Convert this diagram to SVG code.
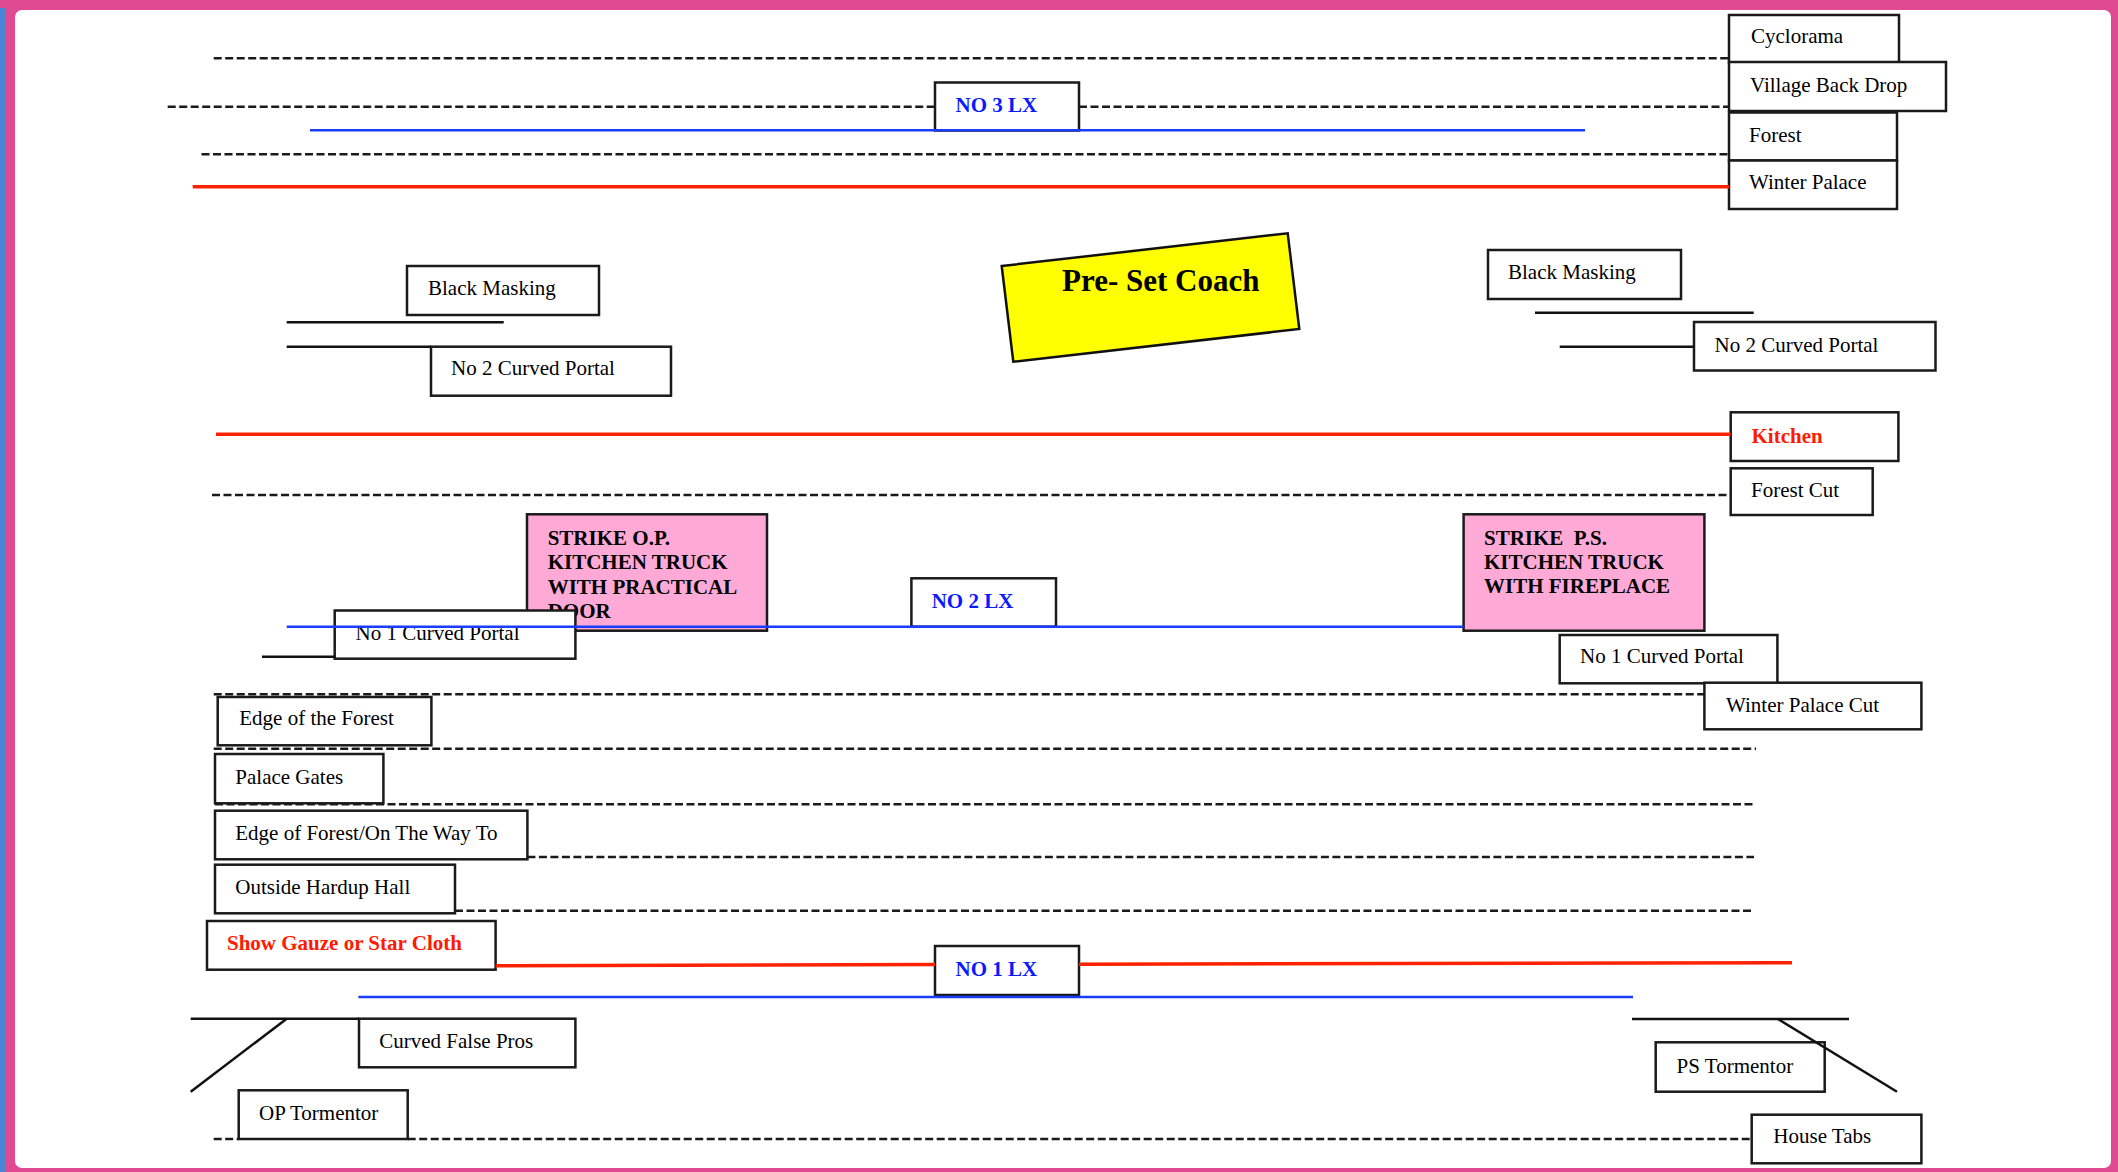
<svg xmlns="http://www.w3.org/2000/svg" width="2118" height="1172" viewBox="0 0 2118 1172">
<style>
.box{fill:#ffffff;stroke:#1a1a1a;stroke-width:2.5}
.pink{fill:#ffaad6;stroke:#1a1a1a;stroke-width:2.5}
.t{font-family:"Liberation Serif","Times New Roman",serif;font-size:21px;fill:#000}
.b{font-weight:bold}
.red{fill:#ff1a00}
.blue{fill:#0a1aff}
.dash{stroke:#1a1a1a;stroke-width:2.5;stroke-dasharray:8 3.5;fill:none}
.solid{stroke:#111;stroke-width:2.5;fill:none}
.rl{stroke:#ff2200;stroke-width:3.5;fill:none}
.bl{stroke:#1a3cff;stroke-width:2.5;fill:none}
</style>
<g id="frame">
<rect x="0" y="0" width="2118" height="1172" fill="#df4a93"/>
<rect x="0" y="8" width="5" height="1164" fill="#4a86d8"/>
<rect x="15" y="10" width="2096" height="1158" rx="7" fill="#ffffff"/>
</g>
<g id="nodes">
<g id="cyclorama"><rect class="box" x="1729" y="15" width="170" height="48"/><text class="t" x="1751" y="43">Cyclorama</text></g>
<g id="village"><rect class="box" x="1729" y="62" width="217" height="49"/><text class="t" x="1750" y="91.5">Village Back Drop</text></g>
<g id="forest"><rect class="box" x="1729" y="112.5" width="168" height="48"/><text class="t" x="1749" y="141.5">Forest</text></g>
<g id="winterpalace"><rect class="box" x="1729" y="160.5" width="168" height="48.5"/><text class="t" x="1749" y="189">Winter Palace</text></g>
<g id="no3lx"><rect class="box" x="935" y="82.5" width="144" height="48"/><text class="t b blue" x="955.5" y="111.5">NO 3 LX</text></g>
<g id="blackmasking-l"><rect class="box" x="407" y="266" width="192" height="49"/><text class="t" x="428" y="295">Black Masking</text></g>
<g id="no2portal-l"><rect class="box" x="431" y="346.7" width="240" height="49"/><text class="t" x="451" y="375">No 2 Curved Portal</text></g>
<g id="coach"><polygon points="1001.7,266 1287.7,233.3 1299.3,329 1013.3,361.7" fill="#ffff00" stroke="#111" stroke-width="2.5"/><text class="t b" style="font-size:31px" x="1062" y="290.5">Pre- Set Coach</text></g>
<g id="blackmasking-r"><rect class="box" x="1488" y="250" width="193" height="49"/><text class="t" x="1508" y="279">Black Masking</text></g>
<g id="no2portal-r"><rect class="box" x="1694" y="322" width="241.5" height="48.5"/><text class="t" x="1714.5" y="351.5">No 2 Curved Portal</text></g>
<g id="kitchen"><rect class="box" x="1730.7" y="412.3" width="167.7" height="48.7"/><text class="t b red" x="1751.5" y="442.5">Kitchen</text></g>
<g id="forestcut"><rect class="box" x="1730.7" y="468.3" width="142" height="46.7"/><text class="t" x="1751" y="497.3">Forest Cut</text></g>
<g id="strike-op"><rect class="pink" x="527" y="514.3" width="240" height="116.4"/>
<text class="t b" x="547.7" y="545">STRIKE O.P.</text><text class="t b" x="547.7" y="569.3">KITCHEN TRUCK</text><text class="t b" x="547.7" y="594">WITH PRACTICAL</text><text class="t b" x="547.7" y="618.3">DOOR</text></g>
<g id="no1portal-l"><rect class="box" x="334.7" y="610.5" width="240.7" height="48.2"/><text class="t" x="355.6" y="640">No 1 Curved Portal</text></g>
<g id="no2lx"><rect class="box" x="911.4" y="578.3" width="144.6" height="48.4"/><text class="t b blue" x="931.7" y="607.7">NO 2 LX</text></g>
<g id="strike-ps"><rect class="pink" x="1463.6" y="514.3" width="240.8" height="116.4"/>
<text class="t b" x="1484" y="545" style="white-space:pre">STRIKE  P.S.</text><text class="t b" x="1484" y="569.3">KITCHEN TRUCK</text><text class="t b" x="1484" y="593">WITH FIREPLACE</text></g>
<g id="no1portal-r"><rect class="box" x="1559.7" y="635" width="217.7" height="48.3"/><text class="t" x="1580" y="663.3">No 1 Curved Portal</text></g>
<g id="winterpalacecut"><rect class="box" x="1704.4" y="682.7" width="217" height="46.6"/><text class="t" x="1726" y="711.7">Winter Palace Cut</text></g>
<g id="edgeforest"><rect class="box" x="217.7" y="697" width="213.7" height="48.3"/><text class="t" x="239.3" y="725">Edge of the Forest</text></g>
<g id="palacegates"><rect class="box" x="215" y="754" width="168.4" height="49.3"/><text class="t" x="235.3" y="784">Palace Gates</text></g>
<g id="edgeway"><rect class="box" x="215" y="810.7" width="312.4" height="48.6"/><text class="t" x="235.3" y="840">Edge of Forest/On The Way To</text></g>
<g id="hardup"><rect class="box" x="215" y="864.7" width="240" height="48.6"/><text class="t" x="235.3" y="894">Outside Hardup Hall</text></g>
<g id="gauze"><rect class="box" x="207" y="921" width="288.6" height="48.7"/><text class="t b red" x="227" y="950">Show Gauze or Star Cloth</text></g>
<g id="no1lx"><rect class="box" x="935" y="946" width="144" height="49"/><text class="t b blue" x="955.5" y="976">NO 1 LX</text></g>
<g id="falsepros"><rect class="box" x="359" y="1018.7" width="216.4" height="48.6"/><text class="t" x="379.3" y="1047.7">Curved False Pros</text></g>
<g id="optormentor"><rect class="box" x="238.7" y="1090.3" width="169" height="48.7"/><text class="t" x="259" y="1120">OP Tormentor</text></g>
<g id="pstormentor"><rect class="box" x="1655.7" y="1042.3" width="169" height="49.4"/><text class="t" x="1676.6" y="1072.7">PS Tormentor</text></g>
<g id="housetabs"><rect class="box" x="1751.7" y="1114.7" width="169.7" height="48.6"/><text class="t" x="1773.3" y="1143.3">House Tabs</text></g>
</g>
<g id="connectors">
<line class="dash" x1="213.7" y1="58.3" x2="1729" y2="58.3"/>
<line class="dash" x1="167.7" y1="106.7" x2="935" y2="106.7"/>
<line class="dash" x1="1079" y1="106.7" x2="1729" y2="106.7"/>
<line class="bl" x1="310" y1="130.3" x2="1585" y2="130.3"/>
<line class="dash" x1="201.5" y1="154.3" x2="1729" y2="154.3"/>
<line class="rl" x1="192.7" y1="186.7" x2="1729" y2="186.7"/>
<line class="solid" x1="286.7" y1="322.3" x2="503.7" y2="322.3"/>
<line class="solid" x1="286.7" y1="346.7" x2="431" y2="346.7"/>
<line class="solid" x1="1535" y1="312.7" x2="1753.7" y2="312.7"/>
<line class="solid" x1="1559.7" y1="346.7" x2="1694" y2="346.7"/>
<line class="rl" x1="216" y1="434.3" x2="1730.7" y2="434.3"/>
<line class="dash" x1="212" y1="495" x2="1730.7" y2="495"/>
<line class="bl" x1="286.7" y1="626.8" x2="1463.6" y2="626.8"/>
<line class="solid" x1="262" y1="656.7" x2="334.7" y2="656.7"/>
<line class="dash" x1="213.7" y1="694.3" x2="1704.4" y2="694.3"/>
<line class="dash" x1="213.7" y1="748.7" x2="1756" y2="748.7"/>
<line class="dash" x1="215" y1="804.3" x2="1754" y2="804.3"/>
<line class="dash" x1="527.4" y1="857" x2="1754" y2="857"/>
<line class="dash" x1="455" y1="910.7" x2="1754" y2="910.7"/>
<line class="rl" x1="495.6" y1="965.7" x2="935" y2="964.5"/>
<line class="rl" x1="1079" y1="964.3" x2="1792" y2="962.7"/>
<line class="bl" x1="358.4" y1="997" x2="1633" y2="997"/>
<line class="solid" x1="190.7" y1="1018.7" x2="359" y2="1018.7"/>
<line class="solid" x1="286.7" y1="1018.7" x2="190.7" y2="1091.7"/>
<line class="solid" x1="1632" y1="1019" x2="1849" y2="1019"/>
<line class="solid" x1="1778" y1="1019" x2="1897" y2="1091.7"/>
<line class="dash" x1="213.7" y1="1139" x2="238.7" y2="1139"/>
<line class="dash" x1="407.7" y1="1139" x2="1751.7" y2="1139"/>
</g>
</svg>
